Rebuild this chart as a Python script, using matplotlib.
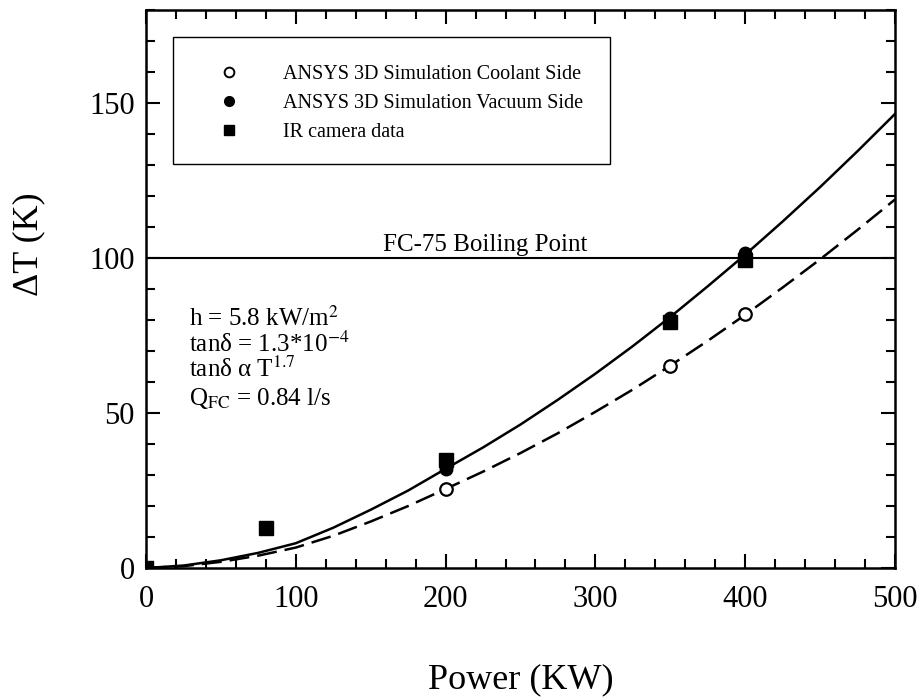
"""Temperature rise versus power: ANSYS simulation, IR camera data, boiling limit."""

import matplotlib

matplotlib.use("Agg")
import matplotlib.pyplot as plt
from matplotlib.lines import Line2D
from matplotlib.patches import Rectangle
from matplotlib.ticker import MultipleLocator

# fitted curves
curve_power = [0, 25, 50, 75, 100, 125, 150, 175, 200, 225, 250, 275, 300,
               325, 350, 375, 400, 425, 450, 475, 500]
vacuum_curve = [0.0, 0.8, 2.5, 4.9, 8.0, 13.0, 18.8, 25.0, 32.0, 38.9, 46.3,
                54.3, 62.7, 71.6, 81.0, 90.9, 101.1, 111.8, 122.9, 134.5, 146.5]
coolant_curve = [0.0, 0.6, 2.0, 4.0, 6.6, 10.4, 15.0, 20.0, 25.5, 31.1, 37.1,
                 43.5, 50.4, 57.6, 65.3, 73.3, 81.7, 90.5, 99.6, 109.1, 118.9]

# simulation points
coolant_power = [200, 350, 400]
coolant_dt = [25.5, 65.3, 82.0]
vacuum_power = [200, 350, 400]
vacuum_dt = [32.0, 80.5, 101.5]

# IR camera measurements
ir_power = [0, 80, 200, 350, 400]
ir_dt = [0.0, 13.0, 35.0, 79.5, 99.5]

boiling_point = 100
notes = [r"h = 5.8 kW/m$^2$",
         r"tanδ = 1.3*10$^{-4}$",
         r"tanδ α T$^{1.7}$",
         r"Q$_{\rm FC}$ = 0.84 l/s"]
note_y = [78.2, 69.8, 61.5, 52.6]
legend_labels = ["ANSYS 3D Simulation Coolant Side",
                 "ANSYS 3D Simulation Vacuum Side",
                 "IR camera data"]

plt.rcParams["font.family"] = ["Liberation Serif", "DejaVu Serif"]
plt.rcParams["mathtext.fontset"] = "stix"

fig = plt.figure(figsize=(9.18, 6.98), dpi=100)
ax = fig.add_axes([0.159, 0.1862, 0.816, 0.7994])

ax.plot(curve_power, vacuum_curve, color="black", lw=1.8)
ax.plot(curve_power, coolant_curve, color="black", lw=1.8, dashes=(8, 3.2))
ax.axhline(boiling_point, color="black", lw=1.5)
ax.text(158, boiling_point + 0.6, "FC-75 Boiling Point", fontsize=18,
        ha="left", va="bottom")

ax.plot(vacuum_power, vacuum_dt, "o", color="black", ms=9)
ax.plot(ir_power, ir_dt, "s", color="black", ms=9.5)
ax.plot(coolant_power, coolant_dt, "o", mfc="white", mec="black", mew=1.6, ms=9)

for line, y in zip(notes, note_y):
    ax.text(29, y, line, fontsize=18, va="baseline")

ax.set_xlim(0, 500)
ax.set_ylim(0, 180)
ax.xaxis.set_major_locator(MultipleLocator(100))
ax.xaxis.set_minor_locator(MultipleLocator(20))
ax.yaxis.set_major_locator(MultipleLocator(50))
ax.yaxis.set_minor_locator(MultipleLocator(10))
ax.tick_params(which="both", direction="in", top=True, right=True, width=1.5)
ax.tick_params(which="major", length=10, labelsize=22)
ax.tick_params(which="minor", length=6.5)
ax.tick_params(axis="x", which="major", pad=12)
ax.tick_params(axis="y", which="major", pad=8)
for side in ax.spines.values():
    side.set_linewidth(1.8)

ax.set_xlabel("Power (KW)", fontsize=26, labelpad=36)
ax.set_ylabel("ΔT (K)", fontsize=26)
ax.yaxis.set_label_coords(-0.135, 0.58)

ax.add_patch(Rectangle((0.036, 0.724), 0.584, 0.228, transform=ax.transAxes,
                       fill=False, lw=1.0, ec="black"))
handles = [
    Line2D([], [], ls="", marker="o", mfc="white", mec="black", mew=1.4, ms=7),
    Line2D([], [], ls="", marker="o", color="black", ms=7),
    Line2D([], [], ls="", marker="s", color="black", ms=7),
]
ax.legend(handles, legend_labels, loc="center left",
          bbox_to_anchor=(0.097, 0.833), frameon=False, fontsize=14.5,
          handlelength=1, handletextpad=2.2, labelspacing=0.5,
          borderpad=0, borderaxespad=0)

fig.savefig("out.png", dpi=100)
